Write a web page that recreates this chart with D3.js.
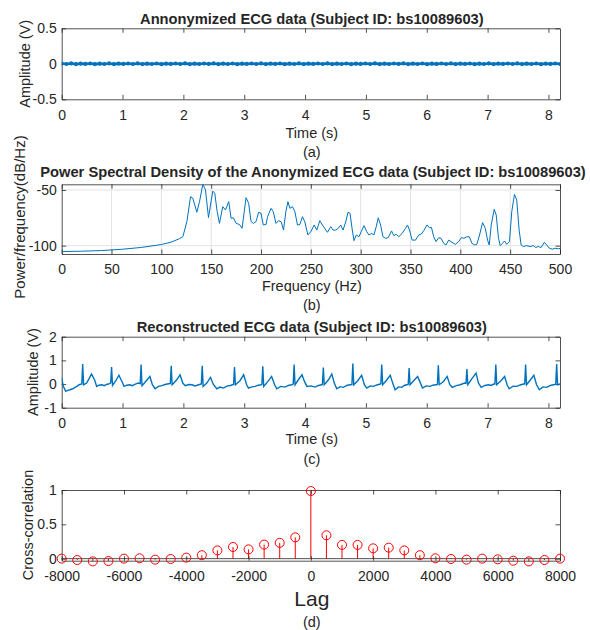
<!DOCTYPE html>
<html>
<head>
<meta charset="utf-8">
<script src="https://cdn.jsdelivr.net/npm/d3@7/dist/d3.min.js"></script>
<style>
  body { margin: 0; background: #fff; }
  text { font-family: "Liberation Sans", Arial, Helvetica, sans-serif; fill: #262626; }
</style>
</head>
<body>
<svg id="chart" width="590" height="630"></svg>
<script>
// ---- data ----

// (a) anonymized ECG: practically flat, one value every ~0.078 s
var anonStep = 0.078;
var anonAmp = [0.004,-0.003,0.005,-0.004,0.003,-0.002,0.004,-0.005,0.002,-0.003,0.005,-0.004,0.003,-0.002,0.004,-0.003,
  0.005,-0.004,0.002,-0.003,0.004,-0.005,0.003,-0.002,0.004,-0.003,0.005,-0.004,0.002,-0.003,0.004,-0.002,
  0.005,-0.004,0.003,-0.003,0.004,-0.005,0.002,-0.002,0.004,-0.003,0.005,-0.004,0.003,-0.002,0.004,-0.005,
  0.002,-0.003,0.005,-0.004,0.003,-0.002,0.004,-0.003,0.005,-0.004,0.002,-0.003,0.004,-0.005,0.003,-0.002,
  0.004,-0.003,0.005,-0.004,0.002,-0.003,0.004,-0.002,0.005,-0.004,0.003,-0.003,0.004,-0.005,0.002,-0.002,
  0.004,-0.003,0.005,-0.004,0.003,-0.002,0.004,-0.005,0.002,-0.003,0.005,-0.004,0.003,-0.002,0.004,-0.003,
  0.005,-0.004,0.002,-0.003,0.004,-0.005,0.003,-0.002,0.004,-0.003];

// (b) power spectral density
var psdFreq = [0,20,40,60,80,100,110,118,121.6,125.6,129.3,131.6,135.6,138.3,141.6,144.3,147.3,149.3,151.6,153.6,
  156,158.3,161.6,164.3,167.6,170,172.3,175,178.3,181,185,187.6,190,192.3,195,197.6,200,202.3,205,206.6,
  210,212.3,215,217.6,220.3,222.6,225,227,229,231.6,234,236.6,239,241.6,244,247,250,253.3,256,259,
  261.6,264.3,266.6,270,272.3,275,277.6,280,282.3,285,287.3,289.3,291.6,293.3,295.6,298.3,300.6,303.3,306,308.3,
  311,313.3,315.6,317.6,320,322.3,325,327.6,331,333.3,335.6,338.3,341.6,345,347,349,351.6,355,358.3,361,
  363.3,366.6,369,371,373.3,375.6,378.3,380.6,383.3,385.6,388.3,391.6,395,398.3,401,403.6,406.6,409,411.6,414.3,
  416.6,419.3,422.3,425,427.3,429,431,434,436,438.3,440,442.3,444.3,446.6,449.3,451.6,454.3,456.6,459,461,
  463.3,466.6,470,473.3,475.6,478.3,481,484.3,486.6,489.3,492.3,495,498.3,500];
var psdPower = [-105.3,-105.0,-104.4,-103.3,-101.6,-99.0,-96.8,-93.8,-91.9,-78.4,-56,-57.5,-70,-60.5,-44.9,-50,-74.8,-63.5,-51,-53,
  -69.5,-80,-65,-68,-60.5,-75.4,-75,-80,-81,-84.4,-56.9,-62,-78.4,-80,-78.4,-70,-71,-81.4,-81,-74,
  -66.5,-69.5,-80,-77.5,-78.7,-86,-69,-60.5,-66.5,-65,-69.5,-81.5,-81,-74,-78.7,-90.4,-87.4,-81.5,-86,-77.5,
  -81.5,-85,-88,-83,-86,-86,-84.4,-81.5,-86,-78.7,-70,-71,-86,-95.5,-90.4,-91.9,-87.4,-82,-87.4,-90.4,
  -89,-90.4,-83,-75,-81.5,-91.9,-93.4,-92.8,-86.8,-91,-89.8,-91.9,-89,-84.4,-81.5,-86,-95,-95,-90.4,-89.5,
  -86.5,-81.4,-84,-83.6,-92,-96.4,-92.8,-93.4,-97.9,-99.4,-95,-97,-98.8,-96.4,-92.8,-93.4,-92,-92,-97.9,-99.4,
  -98.8,-90.4,-79.3,-84.4,-95,-99.4,-81.4,-67.4,-72.5,-93.4,-100,-97.9,-95.8,-98.8,-96.4,-69.5,-53.9,-59,-86,-99.4,
  -100.8,-100,-100.8,-100,-101.7,-100.8,-101.7,-97,-99.4,-102.3,-103.2,-102.3,-102.8,-102.5];

// (c) reconstructed ECG
var ecgTime = [0,0.027,0.066,0.1,0.137,0.18,0.22,0.25,0.285,0.33,
  0.345,0.36,0.41,0.455,0.49,0.54,0.575,0.61,0.66,0.7,
  0.735,0.77,0.805,0.82,0.835,0.89,0.94,0.99,1.025,1.07,
  1.12,1.16,1.21,1.26,1.29,1.305,1.32,1.38,1.45,1.49,
  1.535,1.59,1.645,1.70,1.755,1.785,1.80,1.815,1.89,1.945,
  1.99,2.03,2.085,2.14,2.195,2.25,2.295,2.31,2.325,2.385,
  2.445,2.495,2.55,2.6,2.66,2.715,2.77,2.825,2.84,2.855,
  2.93,2.99,3.04,3.07,3.125,3.18,3.23,3.28,3.29,3.305,
  3.32,3.39,3.45,3.5,3.535,3.6,3.67,3.725,3.78,3.805,
  3.82,3.835,3.89,3.95,3.99,4.03,4.1,4.165,4.22,4.275,
  4.285,4.30,4.315,4.385,4.44,4.48,4.52,4.575,4.63,4.685,
  4.74,4.77,4.785,4.80,4.865,4.93,4.975,5.015,5.07,5.125,
  5.18,5.235,5.245,5.26,5.275,5.345,5.40,5.44,5.48,5.535,
  5.59,5.63,5.67,5.695,5.71,5.725,5.80,5.85,5.89,5.93,
  5.99,6.055,6.1,6.15,6.175,6.19,6.205,6.275,6.335,6.38,
  6.42,6.485,6.55,6.62,6.645,6.66,6.675,6.74,6.81,6.85,
  6.895,6.955,7.015,7.06,7.10,7.12,7.135,7.15,7.22,7.28,
  7.32,7.355,7.42,7.48,7.535,7.59,7.61,7.625,7.64,7.705,
  7.76,7.805,7.85,7.91,7.975,8.03,8.085,8.12,8.135,8.15,
  8.19];
var ecgAmp = [0.25,-0.1,-0.31,-0.27,-0.24,-0.2,-0.14,-0.1,-0.03,0,
  0.84,-0.03,0.04,0.25,0.42,0.18,-0.1,-0.05,-0.03,-0.07,
  -0.02,0,0.05,0.72,-0.06,0.14,0.37,0.11,-0.1,-0.05,
  -0.03,-0.07,0,0.04,0.02,0.82,-0.07,0.11,0.32,-0.03,
  -0.2,-0.1,-0.07,-0.02,0.01,0.02,0.77,-0.03,0.18,0.39,
  0.04,-0.07,-0.02,-0.03,-0.08,-0.03,0,0.77,-0.1,0.04,
  0.28,-0.03,-0.2,-0.13,-0.17,-0.09,-0.06,-0.02,0.72,-0.03,
  0.14,0.39,-0.03,-0.17,-0.12,-0.1,-0.05,-0.03,-0.02,0.75,
  -0.1,0.11,0.32,-0.03,-0.2,-0.1,-0.13,-0.06,-0.03,0,
  0.82,-0.03,0.18,0.39,0.11,-0.1,-0.08,-0.13,-0.06,-0.03,
  -0.01,0.70,-0.03,0.18,0.42,0.04,-0.2,-0.11,-0.14,-0.06,
  -0.03,-0.02,0.87,-0.03,0.14,0.37,-0.03,-0.17,-0.08,-0.1,
  -0.04,0,0.01,0.82,-0.03,0.18,0.37,0.04,-0.24,-0.12,
  -0.14,-0.06,-0.03,-0.02,0.68,-0.03,0.18,0.32,0.08,-0.17,
  -0.08,-0.1,-0.05,-0.03,-0.02,0.79,-0.03,0.11,0.32,-0.03,
  -0.14,-0.07,-0.03,0.04,0.03,0.63,-0.03,0.22,0.46,0.04,
  -0.14,-0.06,-0.03,-0.06,0,0,0.82,-0.03,0.14,0.32,
  -0.03,-0.2,-0.09,-0.1,-0.04,0,0,0.82,-0.03,0.18,
  0.37,-0.03,-0.24,-0.12,-0.14,-0.06,-0.03,-0.01,0.84,-0.03,
  0];

// (d) cross-correlation by lag
var lags = [-8000,-7500,-7000,-6500,-6000,-5500,-5000,-4500,-4000,-3500,-3000,-2500,-2000,-1500,-1000,-500,
  0,500,1000,1500,2000,2500,3000,3500,4000,4500,5000,5500,6000,6500,7000,7500,8000];
var xcorr = [0,-0.02,-0.04,-0.035,0,0.005,-0.015,-0.005,0.015,0.05,0.12,0.17,0.135,0.205,0.23,0.31,
  0.985,0.34,0.2,0.2,0.15,0.16,0.12,0.05,0.005,-0.005,-0.015,0,-0.01,-0.03,-0.04,-0.02,0];

var timeTicks = [0,1,2,3,4,5,6,7,8];
var freqTicks = [0,50,100,150,200,250,300,350,400,450,500];
var lagTicks = [-8000,-6000,-4000,-2000,0,2000,4000,6000,8000];

// ---- layout ----
var svg = d3.select("#chart");
var left = 61.7, right = 560, midX = (left + right) / 2 + 1;
var blue = "#0072BD";

function fmt(d) { return String(d); }

// draws a MATLAB style boxed axes and returns its scales
function makeAxes(top, bottom, xDomain, yDomain, xTicks, yTicks) {
  var x = d3.scaleLinear().domain(xDomain).range([left, right]);
  var y = d3.scaleLinear().domain(yDomain).range([bottom, top]);
  var g = svg.append("g");

  var axes = [
    d3.axisBottom(x).tickValues(xTicks).tickFormat(fmt).tickPadding(10.5),
    d3.axisTop(x).tickValues(xTicks).tickFormat(""),
    d3.axisLeft(y).tickValues(yTicks).tickFormat(fmt).tickPadding(5),
    d3.axisRight(y).tickValues(yTicks).tickFormat("")
  ];
  var shift = ["translate(0," + bottom + ")", "translate(0," + top + ")",
               "translate(" + left + ",0)", "translate(" + right + ",0)"];
  axes.forEach(function(ax, i) {
    var a = g.append("g")
      .attr("transform", shift[i])
      .call(ax.tickSizeInner(-4.5).tickSizeOuter(0));
    a.attr("font-family", null).attr("font-size", null).style("font-size", "14px");
    a.selectAll("path, line").attr("stroke", "#262626").attr("stroke-width", 0.8);
  });
  return {x: x, y: y, g: g, top: top, bottom: bottom};
}

function addText(x, y, str, size, weight, rotate) {
  var t = svg.append("text")
    .attr("text-anchor", "middle")
    .style("font-size", size + "px")
    .style("font-weight", weight || "normal")
    .text(str);
  if (rotate) t.attr("transform", "translate(" + x + "," + y + ") rotate(-90)");
  else t.attr("x", x).attr("y", y);
  return t;
}

// clip region for the data lines of one panel
function clipFor(id, ax) {
  svg.append("clipPath").attr("id", id).append("rect")
    .attr("x", left).attr("y", ax.top)
    .attr("width", right - left).attr("height", ax.bottom - ax.top);
  return "url(#" + id + ")";
}

// ---- (a) anonymized ECG ----
var axA = makeAxes(28.3, 99.3, [0, 8.19], [-0.5, 0.5], timeTicks, [-0.5, 0, 0.5]);
var anonData = anonAmp.map(function(v, i) { return {t: i * anonStep, v: v}; })
  .filter(function(d) { return d.t <= 8.19; });
var lineA = d3.line().x(function(d) { return axA.x(d.t); }).y(function(d) { return axA.y(d.v); });
var gA = svg.append("g").attr("clip-path", clipFor("clipA", axA));
gA.append("path").datum(anonData).attr("d", lineA)
  .attr("fill", "none").attr("stroke", blue).attr("stroke-width", 2.6);
gA.selectAll("circle").data(anonData).enter().append("circle")
  .attr("cx", function(d) { return axA.x(d.t); })
  .attr("cy", function(d) { return axA.y(d.v); })
  .attr("r", 2.1).attr("fill", blue);

addText(midX, 23.5, "Annonymized ECG data (Subject ID: bs10089603)", 14.7, "bold");
addText(30, 63.8, "Amplitude (V)", 14.5, null, true);
addText(midX, 137.5, "Time (s)", 14.5);
addText(midX, 157, "(a)", 14.5);

// ---- (b) PSD ----
var axB = makeAxes(184.3, 254, [0, 500], [-107.5, -44.9], freqTicks, [-100, -50]);
// light grid
axB.g.insert("g", ":first-child").selectAll("line").data(freqTicks.slice(1, -1)).enter().append("line")
  .attr("x1", function(d) { return axB.x(d); }).attr("x2", function(d) { return axB.x(d); })
  .attr("y1", axB.top).attr("y2", axB.bottom)
  .attr("stroke", "#e3e3e3").attr("stroke-width", 1);
axB.g.insert("g", ":first-child").selectAll("line").data([-100, -50]).enter().append("line")
  .attr("x1", left).attr("x2", right)
  .attr("y1", function(d) { return axB.y(d); }).attr("y2", function(d) { return axB.y(d); })
  .attr("stroke", "#e3e3e3").attr("stroke-width", 1);

var psdData = psdFreq.map(function(f, i) { return {f: f, p: psdPower[i]}; });
svg.append("path").datum(psdData)
  .attr("clip-path", clipFor("clipB", axB))
  .attr("d", d3.line().x(function(d) { return axB.x(d.f); }).y(function(d) { return axB.y(d.p); }))
  .attr("fill", "none").attr("stroke", blue).attr("stroke-width", 1);

addText(313, 177, "Power Spectral Density of the Anonymized ECG data (Subject ID: bs10089603)", 14.7, "bold");
addText(25, 217, "Power/frequency(dB/Hz)", 15, null, true);
addText(midX, 291, "Frequency (Hz)", 14.5);
addText(midX, 310, "(b)", 14.5);

// ---- (c) reconstructed ECG ----
var axC = makeAxes(336.7, 407.7, [0, 8.19], [-1, 2], timeTicks, [-1, 0, 1, 2]);
var ecgData = ecgTime.map(function(t, i) { return {t: t, v: ecgAmp[i]}; });
svg.append("path").datum(ecgData)
  .attr("clip-path", clipFor("clipC", axC))
  .attr("d", d3.line().x(function(d) { return axC.x(d.t); }).y(function(d) { return axC.y(d.v); }))
  .attr("fill", "none").attr("stroke", blue).attr("stroke-width", 1.4);

addText(midX, 332, "Reconstructed ECG data (Subject ID: bs10089603)", 14.7, "bold");
addText(38, 372, "Amplitude (V)", 14.5, null, true);
addText(midX, 444, "Time (s)", 14.5);
addText(midX, 463.5, "(c)", 14.5);

// ---- (d) cross-correlation stem plot ----
var axD = makeAxes(490, 560.7, [-8000, 8000], [-0.03, 1], lagTicks, [0, 0.5, 1]);
var stemData = lags.map(function(l, i) { return {lag: l, r: xcorr[i]}; });
var gD = svg.insert("g", function() { return axD.g.node(); });
gD.selectAll(".stem").data(stemData).enter().append("line")
  .attr("class", "stem")
  .attr("x1", function(d) { return axD.x(d.lag); }).attr("x2", function(d) { return axD.x(d.lag); })
  .attr("y1", axD.y(0)).attr("y2", function(d) { return axD.y(d.r); })
  .attr("stroke", "#ff0000").attr("stroke-width", 1);
// stem baseline
svg.append("line")
  .attr("x1", left).attr("x2", right).attr("y1", axD.y(0)).attr("y2", axD.y(0))
  .attr("stroke", "#262626").attr("stroke-width", 0.8);
svg.append("g").selectAll("circle").data(stemData).enter().append("circle")
  .attr("cx", function(d) { return axD.x(d.lag); })
  .attr("cy", function(d) { return axD.y(d.r); })
  .attr("r", 4.5).attr("fill", "none").attr("stroke", "#ff0000").attr("stroke-width", 1);

addText(33, 525, "Cross-correlation", 14.5, null, true);
addText(midX, 605.5, "Lag", 21);
addText(midX, 627, "(d)", 14.5);
</script>
</body>
</html>
